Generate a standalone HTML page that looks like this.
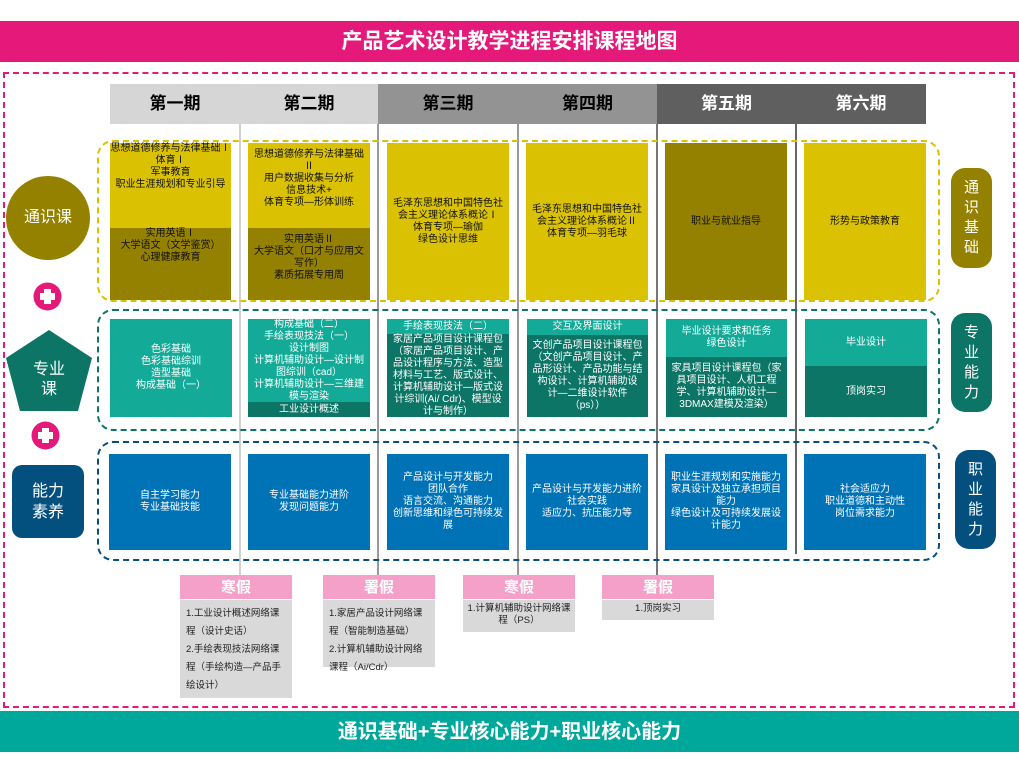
<!DOCTYPE html>
<html><head><meta charset="utf-8">
<style>
*{margin:0;padding:0;box-sizing:border-box}
body{width:1019px;height:763px;position:relative;background:#fff;font-family:"Liberation Sans","Noto Sans CJK SC",sans-serif;overflow:hidden}
.a{position:absolute}
.b{position:absolute;display:flex;align-items:center;justify-content:center;text-align:center;font-size:10px;line-height:12px}
.y{background:#DAC203;color:#111}
.o{background:#948100;color:#111}
.t{background:#13AB98;color:#fff}
.d{background:#0C7566;color:#fff}
.u{background:#0072B6;color:#fff}
.h{font-size:17px;font-weight:bold}
.vl{position:absolute;width:2px}
.vac{position:absolute;width:112px}
.vac .hd{height:25px;background:#F5A0C9;color:#fff;font-weight:bold;font-size:15px;text-align:center;line-height:25px;border-bottom:1px solid #fff}
.vac .ct{background:#D9D9D9;font-size:9.5px;line-height:18px;padding:5px 6px;color:#222}
</style></head><body>
<div class="b" style="left:0;top:21px;width:1019px;height:41px;background:#E4197A;color:#fff;font-size:21px;font-weight:bold">产品艺术设计教学进程安排课程地图</div>
<div class="a" style="left:3px;top:72px;width:1012px;height:636px;border:2px dashed #E4197A"></div>
<div class="b" style="left:0;top:711px;width:1019px;height:41px;background:#00A89C;color:#fff;font-size:20px;font-weight:bold">通识基础+专业核心能力+职业核心能力</div>

<div class="a" style="left:110px;top:84px;width:268px;height:40px;background:#D6D6D6"></div>
<div class="a" style="left:378px;top:84px;width:279px;height:40px;background:#939393"></div>
<div class="a" style="left:657px;top:84px;width:269px;height:40px;background:#5F5F5F"></div>
<div class="b h" style="left:110px;top:84px;width:130px;height:40px">第一期</div>
<div class="b h" style="left:240px;top:84px;width:138px;height:40px">第二期</div>
<div class="b h" style="left:378px;top:84px;width:140px;height:40px">第三期</div>
<div class="b h" style="left:518px;top:84px;width:139px;height:40px">第四期</div>
<div class="b h" style="left:657px;top:84px;width:139px;height:40px;color:#fff">第五期</div>
<div class="b h" style="left:796px;top:84px;width:130px;height:40px;color:#fff">第六期</div>

<div class="vl" style="left:239px;top:124px;height:451px;background:#D0D0D0"></div>
<div class="vl" style="left:377px;top:124px;height:451px;background:#999"></div>
<div class="vl" style="left:517px;top:124px;height:451px;background:#999"></div>
<div class="vl" style="left:656px;top:124px;height:451px;background:#777"></div>
<div class="vl" style="left:795px;top:124px;height:430px;background:#666"></div>

<div class="a" style="left:97px;top:140px;width:843px;height:162px;border:2px dashed #DAC203;border-radius:16px"></div>
<div class="a" style="left:97px;top:309px;width:843px;height:122px;border:2px dashed #0C7566;border-radius:16px"></div>
<div class="a" style="left:97px;top:441px;width:843px;height:120px;border:2px dashed #0B4E7E;border-radius:16px"></div>

<div class="b y" style="left:110px;top:143px;width:121px;height:85px;align-items:flex-start">思想道德修养与法律基础Ⅰ<br>体育Ⅰ<br>军事教育<br>职业生涯规划和专业引导</div>
<div class="b o" style="left:110px;top:228px;width:121px;height:72px;align-items:flex-start">实用英语Ⅰ<br>大学语文（文学鉴赏）<br>心理健康教育</div>
<div class="b y" style="left:248px;top:143px;width:122px;height:85px;align-items:flex-start;padding-top:6px">思想道德修养与法律基础<br>Ⅱ<br>用户数据收集与分析<br>信息技术+<br>体育专项—形体训练</div>
<div class="b o" style="left:248px;top:228px;width:122px;height:72px;align-items:flex-start;padding-top:6px">实用英语Ⅱ<br>大学语文（口才与应用文<br>写作）<br>素质拓展专用周</div>
<div class="b y" style="left:387px;top:143px;width:122px;height:157px">毛泽东思想和中国特色社<br>会主义理论体系概论Ⅰ<br>体育专项—瑜伽<br>绿色设计思维</div>
<div class="b y" style="left:526px;top:143px;width:122px;height:157px">毛泽东思想和中国特色社<br>会主义理论体系概论Ⅱ<br>体育专项—羽毛球</div>
<div class="b o" style="left:665px;top:143px;width:122px;height:157px">职业与就业指导</div>
<div class="b y" style="left:804px;top:143px;width:122px;height:157px">形势与政策教育</div>

<div class="b t" style="left:110px;top:319px;width:122px;height:98px">色彩基础<br>色彩基础综训<br>造型基础<br>构成基础（一）</div>
<div class="b t" style="left:248px;top:319px;width:122px;height:83px">构成基础（二）<br>手绘表现技法（一）<br>设计制图<br>计算机辅助设计—设计制<br>图综训（cad）<br>计算机辅助设计—三维建<br>模与渲染</div>
<div class="b d" style="left:248px;top:402px;width:122px;height:15px">工业设计概述</div>
<div class="b t" style="left:387px;top:319px;width:122px;height:15px">手绘表现技法（二）</div>
<div class="b d" style="left:387px;top:334px;width:122px;height:83px">家居产品项目设计课程包<br>（家居产品项目设计、产<br>品设计程序与方法、造型<br>材料与工艺、版式设计、<br>计算机辅助设计—版式设<br>计综训(Ai/ Cdr)、模型设<br>计与制作）</div>
<div class="b t" style="left:527px;top:319px;width:121px;height:16px">交互及界面设计</div>
<div class="b d" style="left:527px;top:335px;width:121px;height:82px">文创产品项目设计课程包<br>（文创产品项目设计、产<br>品形设计、产品功能与结<br>构设计、计算机辅助设<br>计—二维设计软件<br>（ps））</div>
<div class="b t" style="left:666px;top:319px;width:121px;height:38px">毕业设计要求和任务<br>绿色设计</div>
<div class="b d" style="left:666px;top:357px;width:121px;height:60px">家具项目设计课程包（家<br>具项目设计、人机工程<br>学、计算机辅助设计—<br>3DMAX建模及渲染）</div>
<div class="b t" style="left:805px;top:319px;width:122px;height:47px">毕业设计</div>
<div class="b d" style="left:805px;top:366px;width:122px;height:51px">顶岗实习</div>

<div class="b u" style="left:109px;top:454px;width:122px;height:96px">自主学习能力<br>专业基础技能</div>
<div class="b u" style="left:248px;top:454px;width:122px;height:96px">专业基础能力进阶<br>发现问题能力</div>
<div class="b u" style="left:387px;top:454px;width:122px;height:96px">产品设计与开发能力<br>团队合作<br>语言交流、沟通能力<br>创新思维和绿色可持续发<br>展</div>
<div class="b u" style="left:526px;top:454px;width:122px;height:96px">产品设计与开发能力进阶<br>社会实践<br>适应力、抗压能力等</div>
<div class="b u" style="left:665px;top:454px;width:122px;height:96px">职业生涯规划和实施能力<br>家具设计及独立承担项目<br>能力<br>绿色设计及可持续发展设<br>计能力</div>
<div class="b u" style="left:804px;top:454px;width:122px;height:96px">社会适应力<br>职业道德和主动性<br>岗位需求能力</div>

<div class="b" style="left:6px;top:176px;width:84px;height:84px;border-radius:50%;background:#948100;color:#fff;font-size:16px">通识课</div>
<svg class="a" style="left:33px;top:282px" width="29" height="29"><circle cx="14.5" cy="14.5" r="14" fill="#E4197A"/><rect x="11" y="7" width="7" height="15" fill="#fff"/><rect x="7" y="11" width="15" height="7" fill="#fff"/></svg>
<svg class="a" style="left:31px;top:421px" width="29" height="29"><circle cx="14.5" cy="14.5" r="14" fill="#E4197A"/><rect x="11" y="7" width="7" height="15" fill="#fff"/><rect x="7" y="11" width="15" height="7" fill="#fff"/></svg>
<svg class="a" style="left:6px;top:330px" width="86" height="82"><polygon points="43,0 86,28 72,81 14,81 0,28" fill="#0C7566"/></svg>
<div class="b" style="left:6px;top:355px;width:86px;height:50px;color:#fff;font-size:16px;line-height:20px">专业<br>课</div>
<div class="b" style="left:12px;top:465px;width:72px;height:73px;border-radius:10px;background:#03507E;color:#fff;font-size:16px;line-height:21px">能力<br>素养</div>

<div class="b" style="left:951px;top:168px;width:41px;height:100px;border-radius:14px;background:#948100;color:#fff;font-size:15px;line-height:20px">通<br>识<br>基<br>础</div>
<div class="b" style="left:951px;top:313px;width:41px;height:99px;border-radius:14px;background:#0C7566;color:#fff;font-size:15px;line-height:20px">专<br>业<br>能<br>力</div>
<div class="b" style="left:955px;top:450px;width:41px;height:99px;border-radius:14px;background:#03507E;color:#fff;font-size:15px;line-height:20px">职<br>业<br>能<br>力</div>

<div class="vac" style="left:180px;top:575px"><div class="hd">寒假</div><div class="ct" style="height:98px">1.工业设计概述网络课程（设计史话）<br>2.手绘表现技法网络课程（手绘构造—产品手绘设计）</div></div>
<div class="vac" style="left:323px;top:575px"><div class="hd">署假</div><div class="ct" style="height:67px">1.家居产品设计网络课程（智能制造基础）<br>2.计算机辅助设计网络课程（Ai/Cdr）</div></div>
<div class="vac" style="left:463px;top:575px"><div class="hd">寒假</div><div class="ct" style="height:32px;line-height:12px;text-align:center;padding:3px 4px">1.计算机辅助设计网络课程（PS）</div></div>
<div class="vac" style="left:602px;top:575px"><div class="hd">署假</div><div class="ct" style="height:20px;line-height:12px;text-align:center;padding:3px 4px">1.顶岗实习</div></div>
</body></html>
